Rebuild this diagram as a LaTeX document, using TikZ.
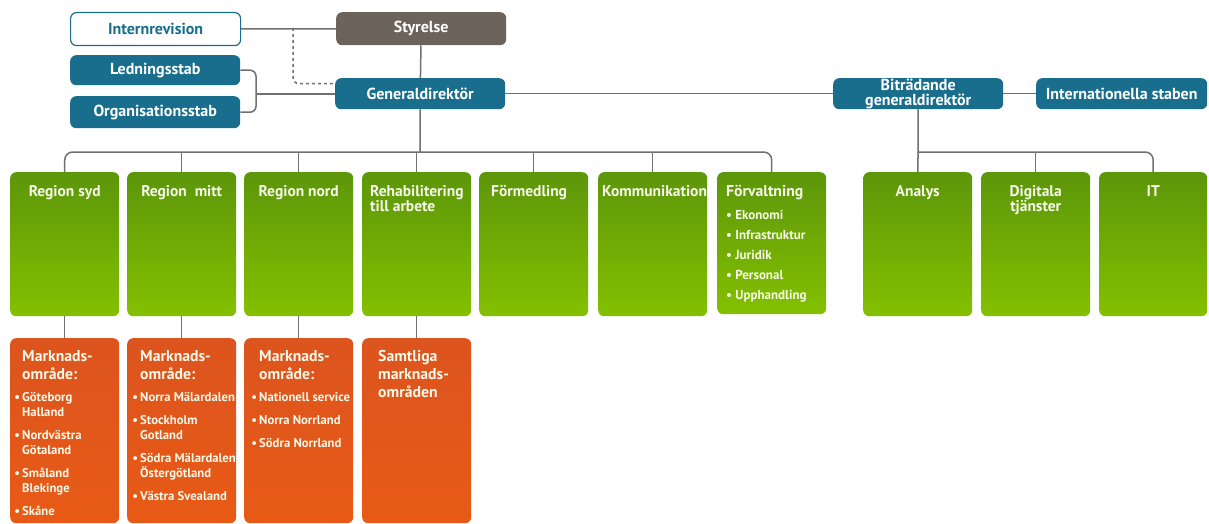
\documentclass[tikz,border=0pt]{standalone}
\usepackage{fontspec}
\setmainfont{PT Sans}
\usetikzlibrary{positioning}
\definecolor{afteal}{RGB}{24,110,140}
\definecolor{afbrown}{RGB}{108,100,92}
\definecolor{afgreentop}{RGB}{92,150,10}
\definecolor{afgreenbot}{RGB}{132,192,0}
\definecolor{aforangetop}{RGB}{220,84,30}
\definecolor{aforangebot}{RGB}{232,90,22}
\definecolor{afline}{RGB}{112,112,112}
\definecolor{aftext}{RGB}{246,248,232}
\newcommand{\mhead}[1]{{\fontsize{15.7}{17}\selectfont #1}}
\newcommand{\mitem}{\llap{\textbullet\,}}

\begin{document}
\begin{tikzpicture}[x=1pt, y=-1pt, font=\bfseries\fontsize{15.5}{15}\selectfont]
        \tikzstyle{stab}=[rectangle, rounded corners=6pt, fill=afteal, text=white, anchor=north west, minimum width=170pt, minimum height=31pt, inner sep=0pt, align=center, font=\bfseries\fontsize{16}{14.5}\selectfont]
        \tikzstyle{unit}=[rectangle, rounded corners=6pt, top color=afgreentop, bottom color=afgreenbot, anchor=north west, minimum width=109pt, minimum height=144pt, inner sep=0pt]
        \tikzstyle{area}=[rectangle, rounded corners=6pt, top color=aforangetop, bottom color=aforangebot, anchor=north west, minimum width=109pt, minimum height=185pt, inner sep=0pt]
        \tikzstyle{utitle}=[text=aftext, inner sep=0pt, align=left]
        \tikzstyle{alist}=[utitle, font=\bfseries\fontsize{12.7}{15}\selectfont]
        \tikzstyle{link}=[draw=afline, line width=1.5pt]

        \fill[white] (0,0) rectangle (1209,524);

        \node[stab, fill=white, draw=afteal, text=afteal, line width=1.2pt, minimum height=33pt] (intrev) at (70,12) {Internrevision};
        \node[stab, fill=afbrown, minimum height=33pt] (styr) at (336,12) {Styrelse};
        \node[stab, minimum height=30pt] (led) at (70,55) {Ledningsstab};
        \node[stab, minimum height=32pt] (org) at (70,96) {Organisationsstab};
        \node[stab] (gd) at (335,78) {Generaldirektör};
        \node[stab] (btr) at (833,78) {Biträdande\\generaldirektör};
        \node[stab, minimum width=171pt] (intst) at (1036,78) {Internationella staben};

        \node[unit] (rsyd) at (10,172) {};
        \node[unit] (rmitt) at (127,172) {};
        \node[unit] (rnord) at (244,172) {};
        \node[unit] (rehab) at (362,172) {};
        \node[unit] (form) at (479,172) {};
        \node[unit] (komm) at (598,172) {};
        \node[unit, minimum height=142pt] (forv) at (717,172) {};
        \node[unit] (analys) at (863,172) {};
        \node[unit] (digit) at (981,172) {};
        \node[unit, minimum width=108pt] (it) at (1099,172) {};

        \node[area] (msyd) at (10,338) {};
        \node[area] (mmitt) at (127,338) {};
        \node[area] (mnord) at (244,338) {};
        \node[area] (mall) at (362,338) {};

        \node[utitle, below=13pt of rsyd.north] (rsydt) {Region syd};
        \node[utitle, below=13pt of rmitt.north] (rmittt) {Region~ mitt};
        \node[utitle, below=13pt of rnord.north] (rnordt) {Region nord};
        \node[utitle, below right=13pt and 8pt of rehab.north west] (rehabt) {Rehabilitering\\till arbete};
        \node[utitle, below right=13pt and 12pt of form.north west] (formt) {Förmedling};
        \node[utitle, below right=13pt and 4pt of komm.north west] (kommt) {Kommunikation};
        \node[utitle, below right=13pt and 9pt of forv.north west, font=\bfseries\fontsize{13}{20}\selectfont] (forvt) {\mhead{Förvaltning}\\[3pt]\textbullet\ Ekonomi\\\textbullet\ Infrastruktur\\\textbullet\ Juridik\\\textbullet\ Personal\\\textbullet\ Upphandling};
        \node[utitle, below=13pt of analys.north] (analyst) {Analys};
        \node[utitle, align=center, below=13pt of digit.north] (digitt) {Digitala\\tjänster};
        \node[utitle, below=13pt of it.north] (itt) {IT};

        \node[alist, below right=12pt and 12pt of msyd.north west] (msydt) {\mhead{Marknads-}\\[3pt]\mhead{område:}\\[7pt]\mitem Göteborg\\Halland\\[8pt]\mitem Nordvästra\\Götaland\\[8pt]\mitem Småland\\Blekinge\\[8pt]\mitem Skåne};
        \node[alist, below right=12pt and 13pt of mmitt.north west] (mmittt) {\mhead{Marknads-}\\[3pt]\mhead{område:}\\[7pt]\mitem Norra Mälardalen\\[8pt]\mitem Stockholm\\Gotland\\[8pt]\mitem Södra Mälardalen\\Östergötland\\[8pt]\mitem Västra Svealand};
        \node[alist, below right=12pt and 15pt of mnord.north west] (mnordt) {\mhead{Marknads-}\\[3pt]\mhead{område:}\\[7pt]\mitem Nationell service\\[8pt]\mitem Norra Norrland\\[8pt]\mitem Södra Norrland};
        \node[alist, below right=12pt and 16pt of mall.north west] (mallt) {\mhead{Samtliga}\\[3pt]\mhead{marknads-}\\[3pt]\mhead{områden}};

        \coordinate (dsh) at (293,28);
        \coordinate (brk) at (256,94);
        \coordinate (bus) at (420,152);

        \draw[link] (intrev) -- (styr);
        \draw[link, dashed, rounded corners=6pt] (dsh) |- ([yshift=10pt]gd.west);
        \draw[link] (styr) -- (gd);
        \draw[link, rounded corners=6pt] (led) -| (brk) |- (org);
        \draw[link] (brk) -- (gd.west |- brk);
        \draw[link] (gd) -- (btr);
        \draw[link] (btr) -- (intst);
        \draw[link] (gd) -- (bus);
        \draw[link, rounded corners=8pt] (rsyd) |- (bus) -| (forv);
        \foreach \u in {rmitt, rnord, rehab, form, komm}
            \draw[link] (\u) -- (\u |- bus);
        \draw[link] (btr) -- (analys);
        \draw[link, rounded corners=8pt] (analys |- bus) -| (it);
        \draw[link] (digit) -- (digit |- bus);
        \foreach \u/\m in {rsyd/msyd, rmitt/mmitt, rnord/mnord, rehab/mall}
            \draw[link] (\u) -- (\m);
    \end{tikzpicture}
\end{document}
